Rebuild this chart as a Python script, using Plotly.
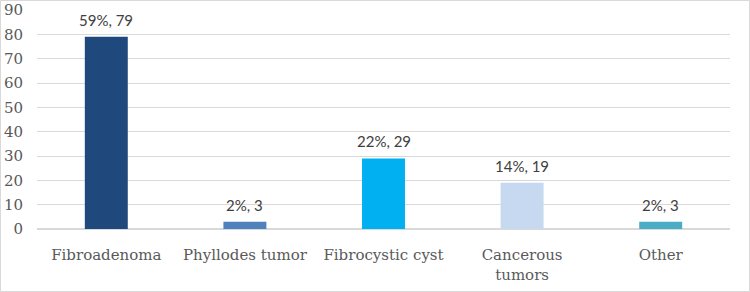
import plotly.graph_objects as go

categories = ["Fibroadenoma", "Phyllodes tumor", "Fibrocystic cyst", "Cancerous<br>tumors", "Other"]
counts = [79, 3, 29, 19, 3]
percents = ["59%", "2%", "22%", "14%", "2%"]
colors = ["#1F497D", "#4F81BD", "#00B0F0", "#C6D9F1", "#4BACC6"]
y_ticks = [0, 10, 20, 30, 40, 50, 60, 70, 80, 90]

labels = [f"{p}, {c}" for p, c in zip(percents, counts)]

fig = go.Figure(go.Bar(
    x=categories, y=counts, marker=dict(color=colors, line=dict(width=0)),
))

for cat, val, lab in zip(categories, counts, labels):
    fig.add_annotation(x=cat, y=val, text=lab, showarrow=False, yanchor="bottom",
                       yshift=6, font=dict(family="Lato, Open Sans, sans-serif",
                                           size=15, color="#404040"))

W, H = 750, 292
L, R, T, B = 37, 20, 10, 63
pw, ph = W - L - R, H - T - B

fig.update_layout(
    width=W, height=H, margin=dict(l=L, r=R, t=T, b=B),
    paper_bgcolor="white", plot_bgcolor="white", bargap=0.69, showlegend=False,
    xaxis=dict(showgrid=False, showline=False, ticks="", ticklabelstandoff=15,
               automargin=False,
               tickfont=dict(family="DejaVu Serif, serif", size=15, color="#595959")),
    yaxis=dict(range=[0, 90], tickvals=y_ticks, showgrid=True, gridcolor="#D9D9D9",
               gridwidth=1, zeroline=True, zerolinecolor="#D9D9D9", showline=False,
               ticks="", ticklabelstandoff=13, automargin=False,
               tickfont=dict(family="DejaVu Serif, serif", size=15, color="#595959")),
    shapes=[dict(type="rect", xref="paper", yref="paper",
                 x0=(0.5 - L) / pw, x1=(W - 0.5 - L) / pw,
                 y0=-(B - 0.5) / ph, y1=1 + (T - 0.5) / ph,
                 line=dict(color="#D9D9D9", width=1))],
)

fig.write_html("out.html", config={"displayModeBar": False},
               post_script="document.body.style.margin='0';document.body.style.padding='0';")
